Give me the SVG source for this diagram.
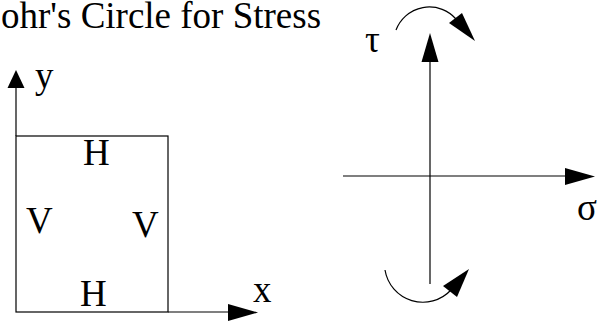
<svg xmlns="http://www.w3.org/2000/svg" width="602" height="322" viewBox="0 0 602 322">
<style>
  text { font-family: "Liberation Serif", "Times New Roman", serif; font-size: 37px; fill: #000; }
  .ln { stroke: #000; stroke-width: 1.2; fill: none; }
  .ah { fill: #000; stroke: none; }
</style>
<rect width="602" height="322" fill="#fff"/>
<g id="title"><text x="1" y="28">ohr's Circle for Stress</text></g>
<g id="element">
  <rect class="ln" x="16" y="136" width="152" height="176"/>
  <text x="83" y="165">H</text>
  <text x="26" y="233">V</text>
  <text x="132" y="237">V</text>
  <text x="80" y="306">H</text>
</g>
<g id="axis-labels">
  <text x="35" y="88">y</text>
  <text x="253" y="302">x</text>
  <text x="365" y="52">τ</text>
  <text x="577" y="220">σ</text>
</g>
<g id="connectors">
  <line class="ln" x1="16" y1="136" x2="16" y2="86"/>
  <polygon class="ah" points="16,70 24.5,88 7.5,88"/>
  <line class="ln" x1="168" y1="312" x2="230" y2="312"/>
  <polygon class="ah" points="258,312.5 228,304 228,321"/>
  <line class="ln" x1="430" y1="284" x2="430" y2="60"/>
  <polygon class="ah" points="430,33 438.5,62 421.5,62"/>
  <line class="ln" x1="343" y1="176" x2="567" y2="176"/>
  <polygon class="ah" points="595,176.5 565,168 565,185"/>
  <path class="ln" d="M396,30 A35.6,35.6 0 0 1 456,19"/>
  <polygon class="ah" points="475,41 449,23 462,13"/>
  <path class="ln" d="M385,270 A38.4,38.4 0 0 0 451,290"/>
  <polygon class="ah" points="469,269 443,286 457,297"/>
</g>
</svg>
